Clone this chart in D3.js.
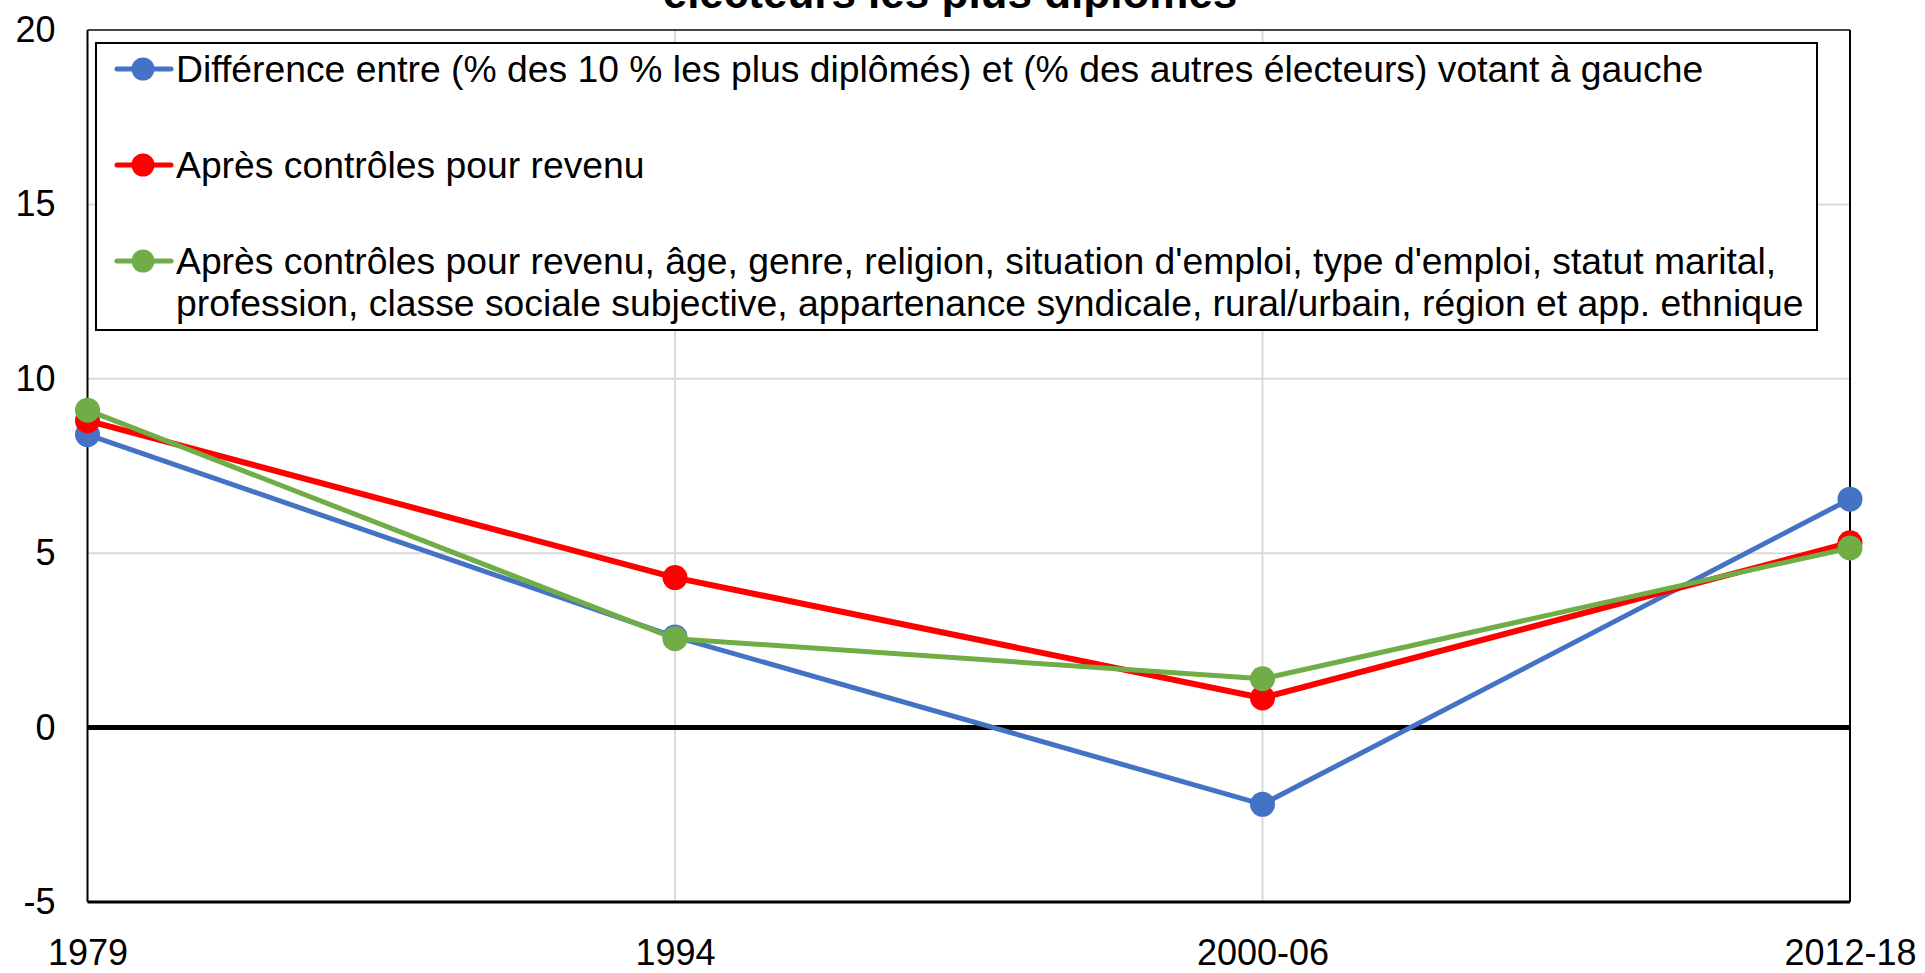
<!DOCTYPE html>
<html>
<head>
<meta charset="utf-8">
<script src="https://cdn.jsdelivr.net/npm/d3@7"></script>
<style>
  html, body { margin: 0; padding: 0; background: #fff; }
  svg { display: block; font-family: "Liberation Sans", Arial, sans-serif; }
</style>
</head>
<body>
<div id="chart"></div>
<script>
// data
const periods = ['1979', '1994', '2000-06', '2012-18'];
const diffRaw = [8.4, 2.6, -2.2, 6.55];
const diffRevenu = [8.8, 4.3, 0.85, 5.3];
const diffAll = [9.1, 2.55, 1.4, 5.15];
const yTicks = [-5, 0, 5, 10, 15, 20];

const seriesNames = [
  ['Différence entre (% des 10 % les plus diplômés) et (% des autres électeurs) votant à gauche'],
  ['Après contrôles pour revenu'],
  ["Après contrôles pour revenu, âge, genre, religion, situation d'emploi, type d'emploi, statut marital,",
   'profession, classe sociale subjective, appartenance syndicale, rural/urbain, région et app. ethnique']
];
const seriesColors = ['#4472c4', '#ff0000', '#70ad47'];
const seriesWidths = [5, 6, 5];
const allSeries = [diffRaw, diffRevenu, diffAll];

const W = 1925, H = 973;
const mLeft = 87.5, mRight = 1850, mTop = 30, mBottom = 902;

const svg = d3.select('#chart').append('svg')
  .attr('width', W)
  .attr('height', H);

const x = d3.scalePoint().domain(periods).range([mLeft, mRight]);
const y = d3.scaleLinear().domain([-5, 20]).range([mBottom, mTop]);

// title (mostly cut off at the top, as in the original)
svg.append('text')
  .attr('x', 950).attr('y', 8)
  .attr('text-anchor', 'middle')
  .attr('font-weight', 'bold')
  .attr('font-size', 44)
  .text('électeurs les plus diplômés');

// gridlines
svg.append('g')
  .selectAll('line')
  .data([5, 10, 15])
  .join('line')
  .attr('x1', mLeft).attr('x2', mRight)
  .attr('y1', d => y(d)).attr('y2', d => y(d))
  .attr('stroke', '#d9d9d9').attr('stroke-width', 2);

svg.append('g')
  .selectAll('line')
  .data(periods.slice(1, -1))
  .join('line')
  .attr('x1', d => x(d)).attr('x2', d => x(d))
  .attr('y1', mTop).attr('y2', mBottom)
  .attr('stroke', '#d9d9d9').attr('stroke-width', 2);

// frame
svg.append('line').attr('x1', mLeft).attr('x2', mRight).attr('y1', y(20)).attr('y2', y(20))
  .attr('stroke', '#444').attr('stroke-width', 2);
svg.append('line').attr('x1', mLeft).attr('x2', mLeft).attr('y1', mTop).attr('y2', mBottom)
  .attr('stroke', '#000').attr('stroke-width', 2);
svg.append('line').attr('x1', mRight).attr('x2', mRight).attr('y1', mTop).attr('y2', mBottom)
  .attr('stroke', '#000').attr('stroke-width', 2);
svg.append('line').attr('x1', mLeft).attr('x2', mRight).attr('y1', y(-5)).attr('y2', y(-5))
  .attr('stroke', '#000').attr('stroke-width', 3);
svg.append('line').attr('x1', mLeft).attr('x2', mRight).attr('y1', y(0)).attr('y2', y(0))
  .attr('stroke', '#000').attr('stroke-width', 5);

// y axis labels
const yAxis = d3.axisLeft(y).tickValues(yTicks).tickSize(0).tickPadding(32)
  .tickFormat(d => String(d));
const yg = svg.append('g').attr('transform', `translate(${mLeft},0)`).call(yAxis);
yg.select('.domain').remove();
yg.selectAll('text').attr('font-size', 36).attr('font-family', null).attr('fill', '#000');

// x axis labels
const xAxis = d3.axisBottom(x).tickSize(0).tickPadding(0);
const xg = svg.append('g').attr('transform', 'translate(0,939)').call(xAxis);
xg.select('.domain').remove();
xg.selectAll('text').attr('font-size', 36).attr('font-family', null).attr('fill', '#000')
  .attr('dy', '0.71em');

// series
const line = d3.line().x((d, i) => x(periods[i])).y(d => y(d));
allSeries.forEach((vals, k) => {
  const g = svg.append('g');
  g.append('path')
    .attr('d', line(vals))
    .attr('fill', 'none')
    .attr('stroke', seriesColors[k])
    .attr('stroke-width', seriesWidths[k])
    .attr('stroke-linejoin', 'round');
  g.selectAll('circle')
    .data(vals)
    .join('circle')
    .attr('cx', (d, i) => x(periods[i]))
    .attr('cy', d => y(d))
    .attr('r', 12.5)
    .attr('fill', seriesColors[k]);
});

// legend
const legend = svg.append('g');
legend.append('rect')
  .attr('x', 96).attr('y', 43)
  .attr('width', 1817 - 96).attr('height', 330 - 43)
  .attr('fill', '#fff').attr('stroke', '#000').attr('stroke-width', 2);

const rowY = [69, 165, 261];
seriesNames.forEach((lines, k) => {
  const g = legend.append('g').attr('transform', `translate(0,${rowY[k]})`);
  g.append('line')
    .attr('x1', 117).attr('x2', 171)
    .attr('stroke', seriesColors[k]).attr('stroke-width', 5)
    .attr('stroke-linecap', 'round');
  g.append('circle').attr('cx', 143).attr('cy', 0).attr('r', 11.5).attr('fill', seriesColors[k]);
  const t = g.append('text')
    .attr('x', 176).attr('y', 0)
    .attr('font-size', 37.3);
  lines.forEach((s, j) => {
    t.append('tspan').attr('x', 176).attr('dy', j === 0 ? '0.35em' : 42).text(s);
  });
});
</script>
</body>
</html>
